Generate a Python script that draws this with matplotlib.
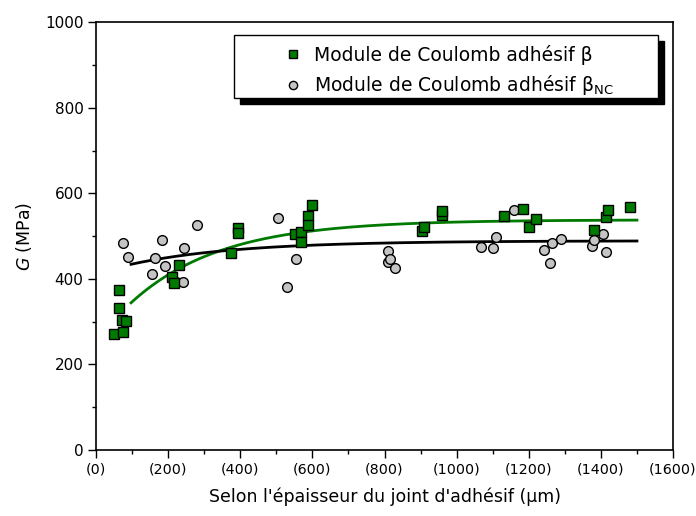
import matplotlib
matplotlib.use('Agg')
import matplotlib.pyplot as plt
from matplotlib.patches import Rectangle
import numpy as np

plt.rcParams['font.family'] = 'DejaVu Sans'

# epaisseur du joint (um) et module G (MPa) - serie beta
x_beta = [51, 63, 63, 72, 74, 83, 210, 215, 230, 373, 394, 394, 551, 569, 569,
          588, 588, 600, 905, 910, 958, 958, 1130, 1184, 1201, 1220, 1380, 1415,
          1420, 1480]
g_beta = [270, 373, 333, 303, 276, 301, 405, 390, 432, 460, 519, 508, 504, 510,
          487, 547, 526, 572, 512, 521, 549, 558, 547, 563, 522, 541, 514, 544,
          560, 569]

# serie beta_NC
x_nc = [74, 89, 155, 164, 183, 190, 223, 241, 244, 280, 505, 530, 555, 810, 810,
        815, 829, 1067, 1100, 1109, 1159, 1241, 1260, 1265, 1290, 1375, 1380,
        1406, 1415]
g_nc = [484, 452, 411, 449, 490, 430, 393, 392, 471, 525, 542, 381, 447, 465,
        439, 446, 425, 474, 472, 497, 562, 468, 438, 483, 493, 476, 490, 505, 462]

# parametres des ajustements exponentiels G = A - B*exp(-x/t)
fit_beta = (538, 286, 250)
fit_nc = (489, 76, 300)
fit_range = (97, 1500)

xticks = [0, 200, 400, 600, 800, 1000, 1200, 1400, 1600]
xtick_labels = ['(0)', '(200)', '(400)', '(600)', '(800)', '(1000)', '(1200)',
                '(1400)', '(1600)']
yticks = [0, 200, 400, 600, 800, 1000]

green = '#007a00'
grey = '#c4c4c4'

fig = plt.figure(figsize=(6.96, 5.16), dpi=100)
ax = fig.add_axes([0.138, 0.128, 0.829, 0.829])

xf = np.linspace(fit_range[0], fit_range[1], 300)
A, B, t = fit_beta
ax.plot(xf, A - B * np.exp(-xf / t), color=green, lw=2, zorder=2)
A, B, t = fit_nc
ax.plot(xf, A - B * np.exp(-xf / t), color='black', lw=2, zorder=2)

ax.plot(x_nc, g_nc, 'o', ms=7, mfc=grey, mec='black', mew=1.0, zorder=3,
        label='Module de Coulomb adhésif $\\mathrm{β}_{\\mathrm{NC}}$')
ax.plot(x_beta, g_beta, 's', ms=6.5, mfc=green, mec='black', mew=1.0, zorder=4,
        label='Module de Coulomb adhésif β')

ax.set_xlim(0, 1600)
ax.set_ylim(0, 1000)
ax.set_xticks(xticks)
ax.set_xticklabels(xtick_labels)
ax.set_xticks(np.arange(100, 1600, 200), minor=True)
ax.set_yticks(yticks)
ax.set_yticks(np.arange(100, 1000, 200), minor=True)
ax.tick_params(which='major', direction='out', length=6, width=1.0, pad=3)
ax.tick_params(axis='x', labelsize=10.3)
ax.tick_params(axis='y', labelsize=11)
ax.tick_params(which='minor', direction='out', length=3, width=1.0)
for s in ax.spines.values():
    s.set_linewidth(1.2)

ax.set_xlabel("Selon l'épaisseur du joint d'adhésif (μm)", fontsize=12.5, labelpad=8)
ax.set_ylabel('$G$ (MPa)', fontsize=12.5, labelpad=8)

# cadre de la legende avec ombre portee
frame_l, frame_r, frame_b, frame_t = 0.239, 0.974, 0.822, 0.970
ox, oy = 0.0104, 0.014
ax.add_patch(Rectangle((frame_l + ox, frame_b - oy), frame_r - frame_l,
                       frame_t - frame_b, transform=ax.transAxes,
                       facecolor='black', edgecolor='black', zorder=5))
ax.add_patch(Rectangle((frame_l, frame_b), frame_r - frame_l, frame_t - frame_b,
                       transform=ax.transAxes, facecolor='white',
                       edgecolor='black', lw=1.0, zorder=6))

handles, labels = ax.get_legend_handles_labels()
leg = ax.legend(handles[::-1], labels[::-1], loc='center left',
                bbox_to_anchor=(0.325, 0.886), frameon=False, fontsize=13.5,
                handlelength=1.0, handletextpad=0.6, borderpad=0,
                borderaxespad=0, labelspacing=0.45, markerscale=0.85)
leg.set_zorder(7)

fig.savefig('out.png', dpi=100)
